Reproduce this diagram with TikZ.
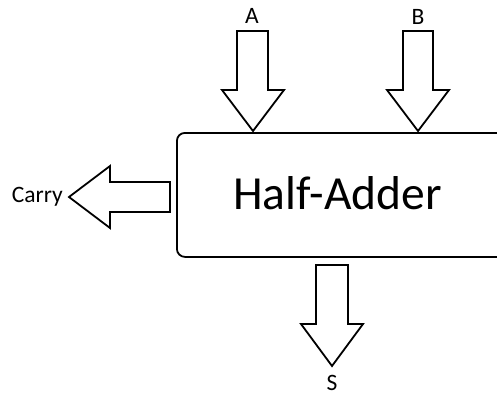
\documentclass[tikz,border=0pt]{standalone}
\usepackage{fontspec}
\setmainfont{Carlito}
\begin{document}
\begin{tikzpicture}[x=1pt,y=-1pt,
  outline/.style={draw=black,line width=1.8pt,line join=miter,fill=white},
  pinlabel/.style={font=\fontsize{23.5}{28}\selectfont,inner sep=0pt}]
\useasboundingbox (0,0) rectangle (497,396);
\clip (0,0) rectangle (497,396);
% main block (its right side runs past the edge)
\node[outline,rounded corners=8pt,minimum width=334pt,minimum height=124pt,
      inner sep=0pt,anchor=north west] (ha) at (176,132) {};
\node[font=\fontsize{47.5}{57}\selectfont,inner sep=0pt] (title) at (337.5,193) {Half-Adder};
% input A
\coordinate (atip) at (253,131);
\draw[outline] (atip) -- (222,90) -- (237,90) -- (237,31) -- (268,31) -- (268,90) -- (284,90) -- cycle;
\node[pinlabel] (la) at (252,16) {A};
% input B
\coordinate (btip) at (418,131);
\draw[outline] (btip) -- (387,90) -- (403,90) -- (403,31) -- (433,31) -- (433,90) -- (449,90) -- cycle;
\node[pinlabel] (lb) at (418,17) {B};
% output S
\coordinate (stip) at (332,366);
\draw[outline] (stip) -- (301,324) -- (316,324) -- (316,265) -- (348,265) -- (348,324) -- (363,324) -- cycle;
\node[pinlabel,anchor=north] (ls) at (332,375) {S};
% output Carry
\coordinate (ctip) at (69,197);
\draw[outline] (ctip) -- (110,166) -- (110,182) -- (170,182) -- (170,212) -- (110,212) -- (110,228) -- cycle;
\node[pinlabel,anchor=east] (lc) at (63,197) {Carry};
\end{tikzpicture}
\end{document}
